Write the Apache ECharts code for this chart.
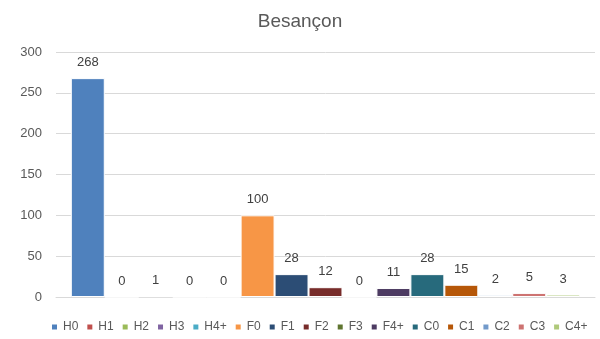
<!DOCTYPE html>
<html>
<head>
<meta charset="utf-8">
<script src="https://cdn.jsdelivr.net/npm/echarts@6/dist/echarts.min.js"></script>
<style>
  html, body { margin: 0; padding: 0; background: #fff; }
  #chart { width: 600px; height: 339px; }
</style>
</head>
<body>
<div id="chart"></div>
<script>
  var categories = ['Besançon'];
  var seriesNames = ['H0', 'H1', 'H2', 'H3', 'H4+', 'F0', 'F1', 'F2', 'F3', 'F4+', 'C0', 'C1', 'C2', 'C3', 'C4+'];
  var seriesValues = [268, 0, 1, 0, 0, 100, 28, 12, 0, 11, 28, 15, 2, 5, 3];
  var seriesColors = ['#4F81BD', '#C0504D', '#9BBB59', '#8064A2', '#4BACC6', '#F79646', '#2C4D75', '#772C2A',
                      '#5F7530', '#4D3B62', '#276A7C', '#B65708', '#729ACA', '#CD7371', '#AFC97A'];

  var font = 'Liberation Sans, Arial, sans-serif';

  var series = seriesNames.map(function(name, i) {
    return {
      name: name,
      type: 'bar',
      barGap: '0%',
      barCategoryGap: '5.5%',
      data: [seriesValues[i]],
      itemStyle: {
        color: seriesColors[i],
        borderColor: '#fff',
        borderWidth: 1
      },
      label: {
        show: true,
        position: 'top',
        distance: 9,
        color: '#404040',
        fontSize: 13,
        fontFamily: font
      }
    };
  });

  var chart = echarts.init(document.getElementById('chart'));
  chart.setOption({
    animation: false,
    color: seriesColors,
    title: {
      text: 'Besançon',
      left: 'center',
      top: 7,
      textStyle: {
        color: '#595959',
        fontSize: 19,
        fontWeight: 'normal',
        fontFamily: font
      }
    },
    legend: {
      data: seriesNames,
      bottom: 1,
      left: 45,
      itemWidth: 7,
      itemHeight: 7,
      itemGap: 7,
      icon: 'rect',
      textStyle: { color: '#595959', fontSize: 12, fontFamily: font }
    },
    grid: { left: 56, right: 5, top: 52, bottom: 42 },
    xAxis: {
      type: 'category',
      data: categories,
      axisLine: { show: true, lineStyle: { color: '#d9d9d9' } },
      axisTick: { show: false },
      axisLabel: { show: false }
    },
    yAxis: {
      type: 'value',
      min: 0,
      max: 300,
      interval: 50,
      axisLine: { show: false },
      axisTick: { show: false },
      splitLine: { lineStyle: { color: '#d9d9d9' } },
      axisLabel: { color: '#595959', fontSize: 13, margin: 14, fontFamily: font }
    },
    series: series
  });
</script>
</body>
</html>
